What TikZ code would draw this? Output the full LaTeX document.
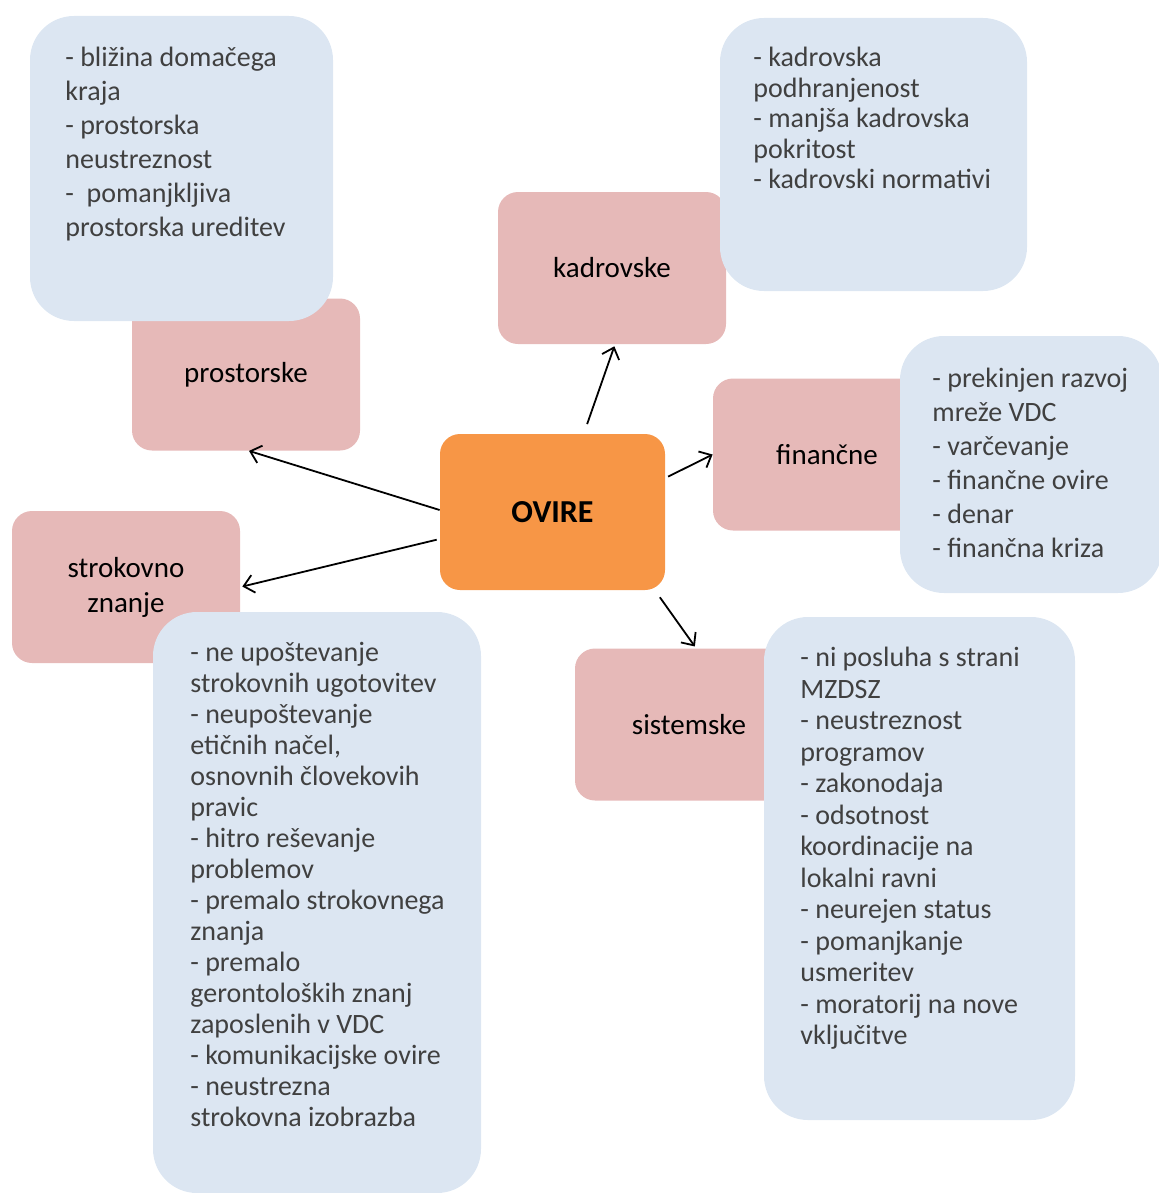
\documentclass[tikz,border=0pt]{standalone}
\usepackage{fontspec}
\setmainfont{Carlito}
\usetikzlibrary{arrows.meta}
\definecolor{pinkbox}{HTML}{E6B9B8}
\definecolor{bluebox}{HTML}{DCE6F2}
\definecolor{orangebox}{HTML}{F79646}
\definecolor{notegray}{HTML}{404040}
\tikzstyle{topic}=[fill=pinkbox,rounded corners=10pt,minimum width=114pt,minimum height=76pt,align=center,font=\fontsize{14.5}{17.5}\selectfont]
\tikzstyle{mainbox}=[fill=orangebox,rounded corners=10pt,minimum width=112.5pt,minimum height=78pt,font=\fontsize{16}{19}\selectfont\bfseries]
\tikzstyle{notes}=[fill=bluebox,rounded corners=22pt]
\tikzstyle{notetext}=[anchor=north west,inner sep=0pt,align=left,text=notegray]
\tikzstyle{link}=[line width=0.9pt,-{Straight Barb[length=5pt,width=9pt]}]

\begin{document}
\begin{tikzpicture}[x=0.5pt,y=-0.5pt]
\useasboundingbox (0,0) rectangle (1158,1193);

% topics
\node[topic] (pros) at (246,374.5) {prostorske};
\node[topic] (kadr) at (612,268) {kadrovske};
\node[topic] (fin) at (827,454.5) {finančne};
\node[topic] (strok) at (126,587) {strokovno\\znanje};
\node[topic] (sist) at (689,724.5) {sistemske};

\node[mainbox] (ovire) at (552.5,512) {OVIRE};

% notes
\node[notes,minimum width=151.5pt,minimum height=152.5pt] (prosN) at (181.5,168.5) {};
\node[notes,minimum width=153.5pt,minimum height=136.5pt] (kadrN) at (873.5,154.5) {};
\node[notes,minimum width=131pt,minimum height=128.5pt] (finN) at (1031,464.5) {};
\node[notes,minimum width=164pt,minimum height=290.5pt] (strokN) at (317,902.5) {};
\node[notes,minimum width=155.5pt,minimum height=251.5pt] (sistN) at (919.5,868.5) {};

\node[notetext,font=\fontsize{14}{17}\selectfont] (prosT) at (65,47)
  {- bližina domačega\\ kraja\\ - prostorska\\ neustreznost\\ -~~pomanjkljiva\\ prostorska ureditev};
\node[notetext,font=\fontsize{14}{15.25}\selectfont] (kadrT) at (753,47)
  {- kadrovska\\ podhranjenost\\ - manjša kadrovska\\ pokritost\\ - kadrovski normativi};
\node[notetext,font=\fontsize{14}{17}\selectfont] (finT) at (932,368)
  {- prekinjen razvoj\\ mreže VDC\\ - varčevanje\\ - finančne ovire\\ - denar\\ - finančna kriza};
\node[notetext,font=\fontsize{14}{15.5}\selectfont] (strokT) at (190,642)
  {- ne upoštevanje\\ strokovnih ugotovitev\\ - neupoštevanje\\ etičnih načel,\\ osnovnih človekovih\\ pravic\\
   - hitro reševanje\\ problemov\\ - premalo strokovnega\\ znanja\\ - premalo\\ gerontoloških znanj\\
   zaposlenih v VDC\\ - komunikacijske ovire\\ - neustrezna\\ strokovna izobrazba};
\node[notetext,font=\fontsize{14}{15.75}\selectfont] (sistT) at (800,647)
  {- ni posluha s strani\\ MZDSZ\\ - neustreznost\\ programov\\ - zakonodaja\\ - odsotnost\\ koordinacije na\\
   lokalni ravni\\ - neurejen status\\ - pomanjkanje\\ usmeritev\\ - moratorij na nove\\ vključitve};

% arrows
\draw[link,shorten <=4pt,shorten >=1pt] ([xshift=16pt,yshift=1pt]ovire.north) -- ([xshift=1.5pt]kadr.south);
\draw[link,shorten <=1.5pt] ([yshift=17pt]ovire.east) -- (fin.west);
\draw[link] ([yshift=1pt]ovire.west) -- ([xshift=1.5pt]pros.south);
\draw[link,shorten <=1.5pt,shorten >=1pt] ([yshift=-13.5pt]ovire.west) -- (strok.east);
\draw[link,shorten <=3pt,shorten >=1pt] ([xshift=-4.5pt,yshift=-1pt]ovire.south east) -- ([xshift=3.5pt]sist.north);
\end{tikzpicture}
\end{document}
